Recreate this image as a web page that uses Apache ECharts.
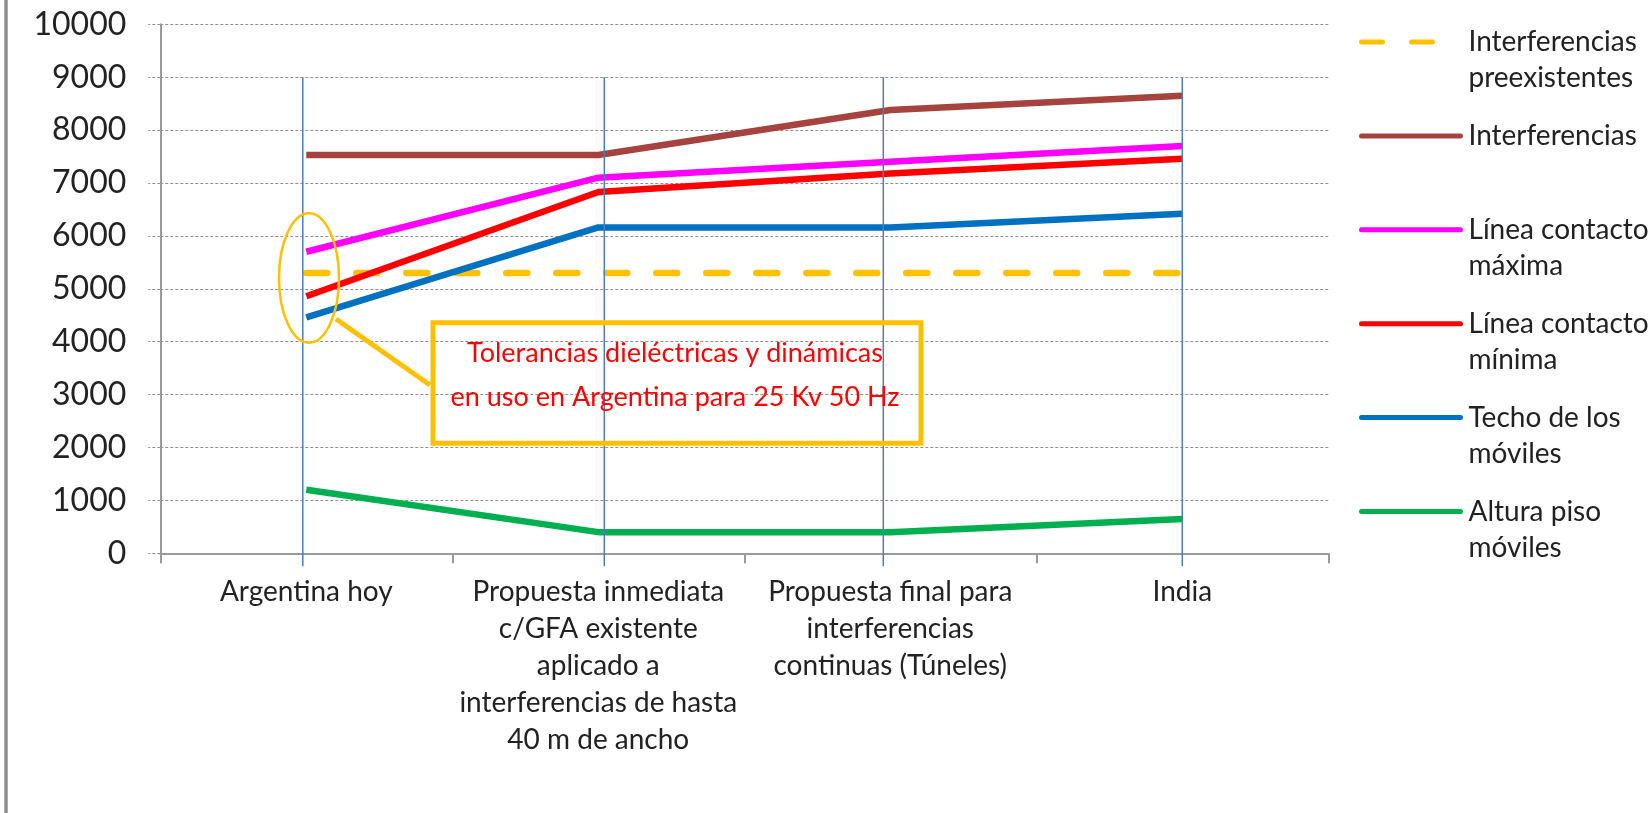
<!DOCTYPE html>
<html><head><meta charset="utf-8">
<script src="https://cdn.jsdelivr.net/npm/echarts@6/dist/echarts.min.js"></script>
<style>html,body{margin:0;padding:0;background:#fff}#c{width:1652px;height:813px}</style>
</head><body><div id="c"></div>
<script>
// ---- data ----
const categories = [
  'Argentina hoy',
  'Propuesta inmediata\nc/GFA existente\naplicado a\ninterferencias de hasta\n40 m de ancho',
  'Propuesta final para\ninterferencias\ncontinuas (Túneles)',
  'India'
];
const seriesNames = [
  'Interferencias preexistentes',
  'Interferencias',
  'Línea contacto máxima',
  'Línea contacto mínima',
  'Techo de los móviles',
  'Altura piso móviles'
];
const legendLabels = [
  'Interferencias\npreexistentes',
  'Interferencias',
  'Línea contacto\nmáxima',
  'Línea contacto\nmínima',
  'Techo de los\nmóviles',
  'Altura piso\nmóviles'
];
const interferenciasPreexistentes = [5300, 5300, 5300, 5300];
const interferencias = [7530, 7530, 8380, 8650];
const lineaContactoMaxima = [5700, 7100, 7400, 7700];
const lineaContactoMinima = [4860, 6830, 7180, 7460];
const techoMoviles = [4460, 6160, 6160, 6420];
const alturaPisoMoviles = [1200, 400, 400, 650];
const annotationText = 'Tolerancias dieléctricas y dinámicas\nen uso en Argentina para 25 Kv 50 Hz';

// ---- chart ----
const values = [interferenciasPreexistentes, interferencias, lineaContactoMaxima, lineaContactoMinima, techoMoviles, alturaPisoMoviles];
const colors = ['#FFC000', '#A6433E', '#FF00FF', '#FF0000', '#0070C0', '#00B050'];
const labelMap = {};
const isTwoLine = (s) => s.indexOf('\n') >= 0;
// two-line legend texts get a blank first line so their first line sits level with the icon
seriesNames.forEach((n, i) => { labelMap[n] = isTwoLine(legendLabels[i]) ? '\n' + legendLabels[i] : legendLabels[i]; });

const chart = echarts.init(document.getElementById('c'), null, {renderer: 'canvas'});
const gridDash = {color: '#8f8f8f', width: 1.2, type: [3, 2]};

const option = {
  animation: false,
  backgroundColor: '#fff',
  grid: {left: 160.3, right: 323.7, top: 24.3, bottom: 259.7, containLabel: false},
  xAxis: {
    type: 'category', data: categories, boundaryGap: true,
    axisLine: {lineStyle: {color: '#9a9a9a', width: 2}},
    axisTick: {show: true, length: 10, lineStyle: {color: '#9a9a9a', width: 2}},
    axisLabel: {interval: 0, margin: 20, fontFamily: 'Lato', fontSize: 28, lineHeight: 37, color: '#222'},
    splitLine: {show: false}
  },
  yAxis: {
    type: 'value', min: 0, max: 10000, interval: 1000,
    axisLine: {show: true, lineStyle: {color: '#9a9a9a', width: 2}},
    axisTick: {show: true, length: 12, lineStyle: gridDash},
    axisLabel: {margin: 34, fontFamily: 'Lato', fontSize: 32, color: '#222', formatter: (v) => String(v)},
    splitLine: {show: true, lineStyle: gridDash}
  },
  legend: {
    orient: 'vertical', left: 1359, top: -12, padding: 0,
    itemWidth: 99, itemHeight: 14, itemGap: 93.9 - 108,
    formatter: (n) => labelMap[n],
    textStyle: {fontFamily: 'Lato', fontSize: 28, lineHeight: 36, color: '#222', backgroundColor: 'transparent'},
    lineStyle: {width: 5, cap: 'round'},
    itemStyle: {opacity: 0},
    data: seriesNames.map((n, i) => ({
      name: n,
      textStyle: {padding: isTwoLine(legendLabels[i]) ? [0, 0, 0, 3] : [36, 0, 36, 3]}
    }))
  },
  series: seriesNames.map((n, i) => ({
    name: n, type: 'line', data: values[i], symbol: 'none', showSymbol: false, z: 3,
    lineStyle: i === 0
      ? {color: colors[i], width: 6.5, type: [21, 29], cap: 'round'}
      : {color: colors[i], width: 6.5},
    itemStyle: {color: colors[i]}
  }))
};
chart.setOption(option);

// vertical guide lines (hand-drawn in original) anchored to category positions
const vOffsets = [-3.5, 6, -7, 0];
const graphics = [];
categories.forEach((c, i) => {
  const top = chart.convertToPixel({gridIndex: 0}, [i, 9000]);
  const bot = chart.convertToPixel({gridIndex: 0}, [i, 0]);
  const x = top[0] + vOffsets[i];
  graphics.push({type: 'line', z: 10, shape: {x1: x, y1: top[1], x2: x, y2: bot[1] + 13},
    style: {stroke: '#4A7EBB', lineWidth: 1.5}});
});
// annotation
graphics.push({type: 'ellipse', z: 11, shape: {cx: 309, cy: 278, rx: 30, ry: 64.7},
  style: {fill: 'none', stroke: '#FFC000', lineWidth: 2.5}});
graphics.push({type: 'line', z: 11, shape: {x1: 336, y1: 319, x2: 430, y2: 385},
  style: {stroke: '#FFC000', lineWidth: 5}});
graphics.push({type: 'rect', z: 11, shape: {x: 433, y: 322.7, width: 488, height: 120.6},
  style: {fill: 'none', stroke: '#FFC000', lineWidth: 5}});
graphics.push({type: 'text', z: 12, x: 675, y: 375,
  style: {text: annotationText, fill: '#FF0000', font: '27px Lato', lineHeight: 44,
    align: 'center', verticalAlign: 'middle'}});
// left border line
graphics.push({type: 'rect', z: 12, shape: {x: 4.3, y: 0, width: 3.4, height: 813},
  style: {fill: '#8a8a8a'}});
chart.setOption({graphic: graphics});
</script>
</body></html>
